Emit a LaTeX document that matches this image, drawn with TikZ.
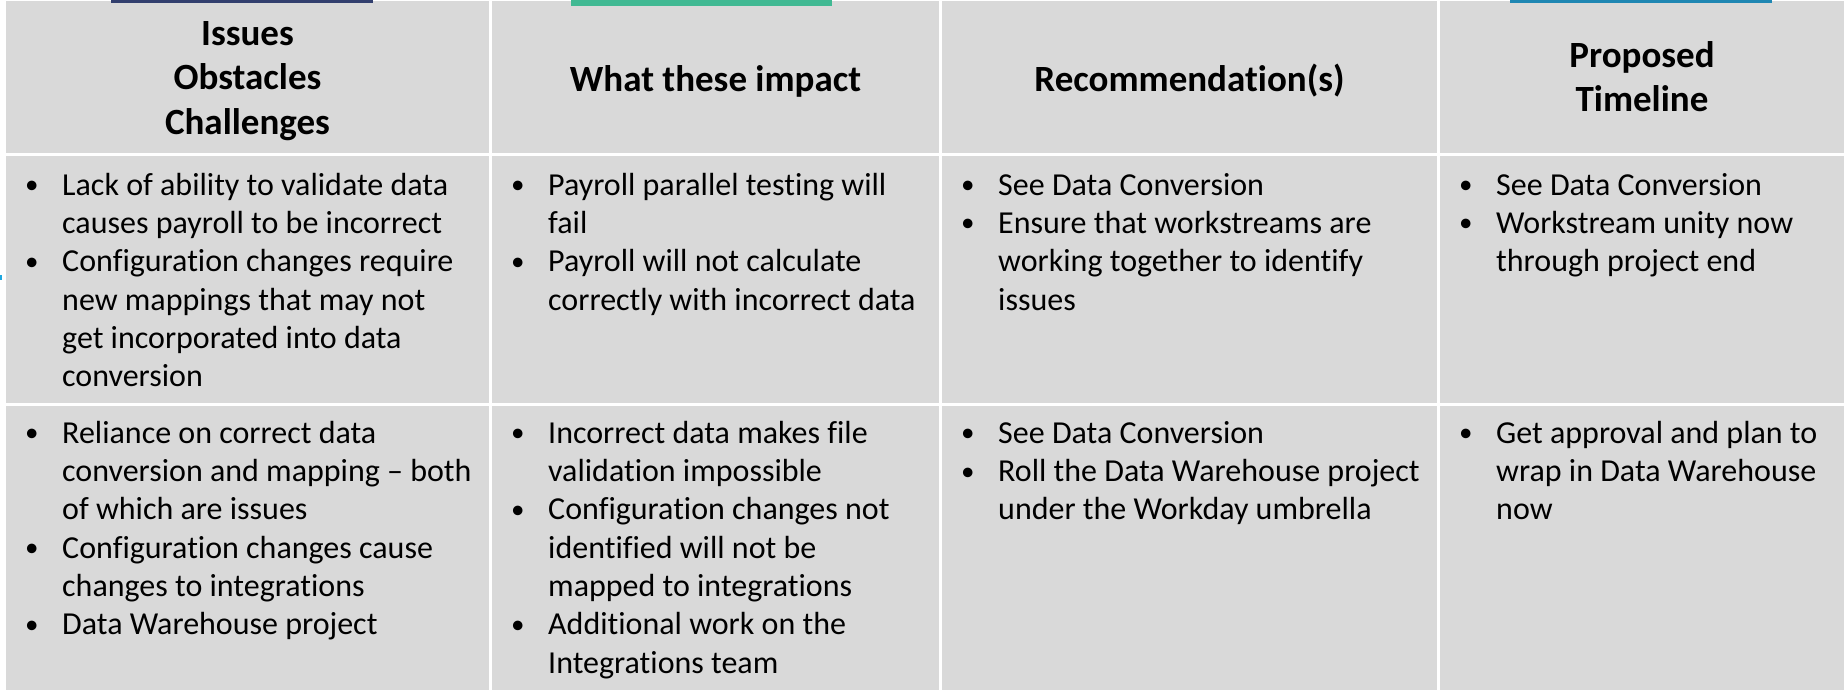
\documentclass[tikz,border=0pt]{standalone}
\usepackage{fontspec}
\setmainfont{Carlito}[Ligatures=NoCommon]
\definecolor{cellgray}{HTML}{D9D9D9}
\definecolor{barnavy}{HTML}{323F6E}
\definecolor{barteal}{HTML}{41B993}
\definecolor{barblue}{HTML}{1F87B3}
\definecolor{markcyan}{HTML}{1EA8E0}
\newcommand\bl{\makebox[37pt][l]{\raisebox{1.5pt}{\fontsize{27}{27}\selectfont •}}}
\newcommand\ind{\hspace*{37pt}}
\newcommand\hrl{\rule{0pt}{32pt}}
\newcommand\brl{\rule{0pt}{26pt}}
\tikzset{
  cellbg/.style={fill=cellgray},
  headtext/.style={anchor=north, inner sep=0pt, align=center, font=\fontsize{37}{44.5}\selectfont\bfseries},
  bodytext/.style={anchor=north west, inner sep=0pt, align=left, font=\fontsize{32}{38.3}\selectfont},
}
\begin{document}
\begin{tikzpicture}[x=1pt,y=-1pt]
\useasboundingbox[fill=white] (0,0) rectangle (1844,692);
% cells
\foreach \xa/\xb in {6/489,492/939,942/1437,1440/1844}{
  \foreach \ya/\yb in {1/153,156/403,406/690}{
    \path[cellbg] (\xa,\ya) rectangle (\xb,\yb);
  }
}
% top bars
\fill[barnavy] (111,0) rectangle (373,3);
\fill[barteal] (571,0) rectangle (832,6);
\fill[barblue] (1510,0) rectangle (1772,3.5);
\fill[markcyan] (0,275) rectangle (2,280);
% headers
\node[headtext] (h1) at (247.5,13) {\hrl Issues\\Obstacles\\Challenges};
\node[headtext] (h2) at (715.5,59) {\hrl What these impact};
\node[headtext] (h3) at (1189.5,59) {\hrl Recommendation(s)};
\node[headtext] (h4) at (1642,35) {\hrl Proposed\\Timeline};
% row 1
\node[bodytext] (a1) at (25,169) {\brl\bl Lack of ability to validate data\\\ind causes payroll to be incorrect\\\bl Configuration changes require\\\ind new mappings that may not\\\ind get incorporated into data\\\ind conversion};
\node[bodytext] (b1) at (511,169) {\brl\bl Payroll parallel testing will\\\ind fail\\\bl Payroll will not calculate\\\ind correctly with incorrect data};
\node[bodytext] (c1) at (961,169) {\brl\bl See Data Conversion\\\bl Ensure that workstreams are\\\ind working together to identify\\\ind issues};
\node[bodytext] (d1) at (1459,169) {\brl\bl See Data Conversion\\\bl Workstream unity now\\\ind through project end};
% row 2
\node[bodytext] (a2) at (25,417) {\brl\bl Reliance on correct data\\\ind conversion and mapping – both\\\ind of which are issues\\\bl Configuration changes cause\\\ind changes to integrations\\\bl Data Warehouse project};
\node[bodytext] (b2) at (511,417) {\brl\bl Incorrect data makes file\\\ind validation impossible\\\bl Configuration changes not\\\ind identified will not be\\\ind mapped to integrations\\\bl Additional work on the\\\ind Integrations team};
\node[bodytext] (c2) at (961,417) {\brl\bl See Data Conversion\\\bl Roll the Data Warehouse project\\\ind under the Workday umbrella};
\node[bodytext] (d2) at (1459,417) {\brl\bl Get approval and plan to\\\ind wrap in Data Warehouse\\\ind now};
\end{tikzpicture}
\end{document}
